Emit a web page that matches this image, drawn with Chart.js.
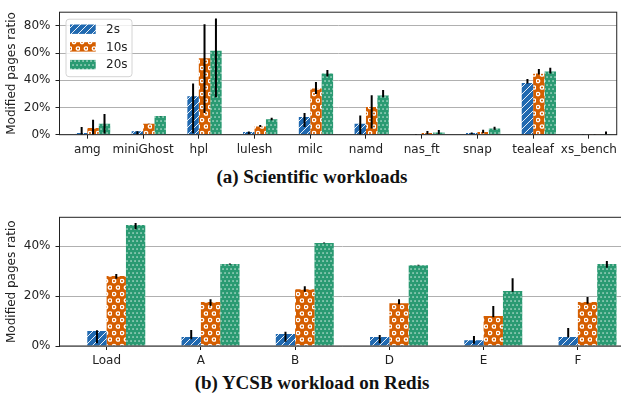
<!DOCTYPE html>
<html>
<head>
<meta charset="utf-8">
<script src="https://cdn.jsdelivr.net/npm/chart.js@4"></script>
<style>
  body { margin: 0; background: #fff; width: 621px; height: 400px; overflow: hidden; position: relative; }
  .box { position: absolute; left: 0; }
  .cap { position: absolute; left: 0; width: 624px; text-align: center; font: bold 19px "Liberation Serif", serif; color: #111; line-height: 22px; }
</style>
</head>
<body>
<div class="box" style="top:0;width:621px;height:160px"><canvas id="sci"></canvas></div>
<div class="cap" style="top:166px">(a) Scientific workloads</div>
<div class="box" style="top:200px;width:626px;height:170px"><canvas id="ycsb"></canvas></div>
<div class="cap" style="top:372px">(b) YCSB workload on Redis</div>
<script>
// (a) Scientific workloads
const sciLabels = ['amg', 'miniGhost', 'hpl', 'lulesh', 'milc', 'namd', 'nas_ft', 'snap', 'tealeaf', 'xs_bench'];
const sci2s  = [1.2, 2.5, 28.3, 1.9, 13.0, 8.1, 0.3, 1.2, 38.0, 0.2];
const sci10s = [4.9, 8.1, 56.1, 6.0, 33.9, 20.4, 1.2, 1.9, 45.0, 0.2];
const sci20s = [8.1, 13.7, 61.7, 11.4, 45.0, 28.8, 1.6, 4.6, 46.4, 0.5];
// error bars as [low, high]
const sci2sErr  = [[-2, 5.6], [0, 2.6], [1, 37.6], [0.5, 2.3], [5.6, 16], [0, 14.1], [0, 0.5], [0.5, 1.6], [37.6, 41], [0, 0.4]];
const sci10sErr = [[-1, 10.9], [8.0, 8.2], [16, 81.2], [5.6, 7.2], [29.9, 38.7], [4.6, 29.0], [0.5, 2.8], [1, 3.7], [44.3, 48.2], [0, 0.6]];
const sci20sErr = [[0.9, 15.3], [13.6, 13.8], [27.6, 85.3], [10.7, 12.5], [42.7, 47.5], [27.6, 32.9], [0.5, 3.5], [3.7, 5.8], [45, 49.2], [0, 2.3]];
const sciTicks = [0, 20, 40, 60, 80];

// (b) YCSB workload on Redis
const ycsbLabels = ['Load', 'A', 'B', 'D', 'E', 'F'];
const ycsb2s  = [6.0, 3.6, 4.8, 3.6, 2.3, 3.6];
const ycsb10s = [28.0, 17.6, 22.7, 17.1, 12.0, 17.6];
const ycsb20s = [48.4, 32.8, 41.2, 32.3, 22.0, 32.8];
const ycsb2sErr  = [[1.1, 6.3], [2.7, 6.4], [1.7, 5.7], [1.1, 4.4], [0.9, 4.0], [3.5, 7.2]];
const ycsb10sErr = [[26.9, 28.8], [16, 18.7], [21.7, 23.9], [16.7, 18.7], [11.5, 16], [16.9, 19.6]];
const ycsb20sErr = [[46.7, 49.2], [32.6, 33.0], [41.1, 41.4], [32.2, 32.5], [21.7, 27.1], [31.3, 34]];
const ycsbTicks = [0, 20, 40];

const seriesNames = ['2s', '10s', '20s'];

// hatch patterns
function stripes(color) {
  const c = document.createElement('canvas');
  c.width = 7; c.height = 7;
  const g = c.getContext('2d');
  g.fillStyle = color; g.fillRect(0, 0, 7, 7);
  g.strokeStyle = 'rgba(255,255,255,0.9)'; g.lineWidth = 1;
  g.beginPath();
  g.moveTo(-1, 8); g.lineTo(8, -1);
  g.moveTo(-1, 1); g.lineTo(1, -1);
  g.moveTo(6, 8); g.lineTo(8, 6);
  g.stroke();
  return g.createPattern(c, 'repeat');
}
function rings(color) {
  const c = document.createElement('canvas');
  c.width = 8; c.height = 13;
  const g = c.getContext('2d');
  g.fillStyle = color; g.fillRect(0, 0, 8, 13);
  g.strokeStyle = '#fff'; g.lineWidth = 1.3;
  [[2, 3], [6, 9.5]].forEach(([x, y]) => {
    g.beginPath(); g.arc(x, y, 1.7, 0, Math.PI * 2); g.stroke();
  });
  return g.createPattern(c, 'repeat');
}
function dots(color) {
  const c = document.createElement('canvas');
  c.width = 8; c.height = 8;
  const g = c.getContext('2d');
  g.fillStyle = color; g.fillRect(0, 0, 8, 8);
  g.fillStyle = 'rgba(255,255,255,0.85)';
  [[1, 1], [5, 1], [3, 5], [7, 5]].forEach(([x, y]) => g.fillRect(x - 0.6, y - 0.6, 1.3, 1.3));
  return g.createPattern(c, 'repeat');
}
const fills = [stripes('#2069b0'), rings('#d55e00'), dots('#2a9a72')];

const errorBars = {
  id: 'errorBars',
  afterDatasetsDraw(chart) {
    const { ctx, chartArea, scales: { y } } = chart;
    ctx.save();
    ctx.beginPath();
    ctx.rect(chartArea.left, chartArea.top, chartArea.width, chartArea.height);
    ctx.clip();
    ctx.strokeStyle = '#000';
    ctx.lineWidth = 2;
    chart.data.datasets.forEach((ds, i) => {
      if (!ds.err) return;
      chart.getDatasetMeta(i).data.forEach((bar, j) => {
        const [lo, hi] = ds.err[j];
        ctx.beginPath();
        ctx.moveTo(bar.x, y.getPixelForValue(lo));
        ctx.lineTo(bar.x, y.getPixelForValue(hi));
        ctx.stroke();
      });
    });
    ctx.restore();
    // axes frame
    ctx.save();
    ctx.strokeStyle = '#222';
    ctx.lineWidth = 1;
    ctx.strokeRect(chartArea.left, chartArea.top, chartArea.width, chartArea.height);
    ctx.restore();
  }
};

const boxLegend = {
  id: 'boxLegend',
  afterDraw(chart) {
    if (!chart.options.plugins.boxLegend) return;
    const { ctx, chartArea } = chart;
    const items = chart.data.datasets.filter(d => d.label);
    const x0 = chartArea.left + 6, y0 = chartArea.top + 6.5;
    ctx.save();
    ctx.beginPath();
    ctx.roundRect(x0 + 0.5, y0 + 0.5, 66, 57.5, 3);
    ctx.fillStyle = 'rgba(255,255,255,0.8)';
    ctx.fill();
    ctx.strokeStyle = '#d4d4d4';
    ctx.lineWidth = 1;
    ctx.stroke();
    ctx.font = '12px "DejaVu Sans"';
    ctx.textBaseline = 'middle';
    items.forEach((d, i) => {
      const cy = y0 + 10.5 + i * 17.7;
      ctx.fillStyle = d.backgroundColor;
      ctx.fillRect(x0 + 4.5, cy - 4.7, 25.7, 9.4);
      ctx.fillStyle = '#222';
      ctx.fillText(d.label, x0 + 40.5, cy + 0.5);
    });
    ctx.restore();
  }
};

function makeChart(id, labels, values, errs, ticks, yMax, areaTop, xHeight, showLegend) {
  const datasets = [{ label: '', data: [] }]; // empty slot so bar groups start at the tick
  values.forEach((v, i) => datasets.push({
    label: seriesNames[i],
    data: v,
    err: errs[i],
    backgroundColor: fills[i],
    borderWidth: 0
  }));
  return new Chart(document.getElementById(id), {
    type: 'bar',
    data: { labels, datasets },
    options: {
      responsive: true,
      maintainAspectRatio: false,
      animation: false,
      layout: { padding: { top: areaTop, right: 1, left: 0, bottom: 0 } },
      datasets: { bar: { categoryPercentage: 0.82, barPercentage: 1 } },
      plugins: { legend: { display: false }, tooltip: { enabled: false }, boxLegend: showLegend },
      scales: {
        x: {
          grid: { drawOnChartArea: false, offset: false, tickLength: 4, tickColor: '#222' },
          border: { display: false },
          ticks: { color: '#222', font: { family: 'DejaVu Sans', size: 12 }, padding: 4, autoSkip: false, maxRotation: 0 },
          afterFit: s => { s.height = xHeight; }
        },
        y: {
          min: 0,
          max: yMax,
          grid: { color: '#b0b0b0', tickColor: '#222', tickLength: 4, lineWidth: 1 },
          border: { display: false },
          ticks: { color: '#222', font: { family: 'DejaVu Sans', size: 12 }, padding: 5, callback: v => v + '%' },
          afterBuildTicks: s => { s.ticks = ticks.map(v => ({ value: v })); },
          title: { display: true, text: 'Modified pages ratio', color: '#222', font: { family: 'DejaVu Sans', size: 12 }, padding: { top: 5, bottom: 0 } },
          afterFit: s => { s.width = 59.5; }
        }
      }
    },
    plugins: [errorBars, boxLegend]
  });
}

makeChart('sci', sciLabels, [sci2s, sci10s, sci20s], [sci2sErr, sci10sErr, sci20sErr], sciTicks, 90, 5, 25.3, true);
makeChart('ycsb', ycsbLabels, [ycsb2s, ycsb10s, ycsb20s], [ycsb2sErr, ycsb10sErr, ycsb20sErr], ycsbTicks, 51.5, 17.3, 24, false);
</script>
</body>
</html>
